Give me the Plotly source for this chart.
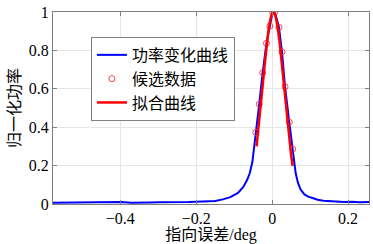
import plotly.graph_objects as go

# Blue: normalised power vs pointing error
power_x = [-0.577, -0.55, -0.52, -0.5, -0.47, -0.45, -0.42, -0.4, -0.37, -0.35, -0.32, -0.3,
           -0.27, -0.25, -0.22, -0.2, -0.17, -0.15, -0.13, -0.11, -0.09, -0.076, -0.066,
           -0.059, -0.052, -0.047, -0.043, -0.034, -0.025, -0.015, -0.006, 0.001, 0.007,
           0.018, 0.026, 0.034, 0.045, 0.054, 0.058, 0.062, 0.068, 0.075, 0.085, 0.095,
           0.108, 0.12, 0.135, 0.15, 0.17, 0.19, 0.21, 0.23, 0.255]
power_y = [0.006, 0.007, 0.005, 0.006, 0.008, 0.007, 0.009, 0.010, 0.007, 0.006, 0.008, 0.009,
           0.008, 0.009, 0.010, 0.012, 0.013, 0.016, 0.024, 0.036, 0.058, 0.089, 0.125,
           0.16, 0.22, 0.30, 0.37, 0.52, 0.684, 0.837, 0.927, 1.0, 1.0,
           0.92, 0.79, 0.61, 0.426, 0.27, 0.20, 0.16, 0.11, 0.075, 0.05, 0.038,
           0.03, 0.022, 0.017, 0.014, 0.011, 0.010, 0.012, 0.009, 0.011]

# Candidate data (circles)
cand_x = [-0.043, -0.034, -0.025, -0.015, -0.006, 0.001, 0.007, 0.018, 0.026, 0.034, 0.045, 0.054]
cand_y = [0.373, 0.52, 0.684, 0.837, 0.927, 1.0, 1.0, 0.92, 0.793, 0.611, 0.426, 0.286]

# Red: fitted curve
fit_x = [-0.041, -0.035, -0.030, -0.025, -0.020, -0.015, -0.010, -0.005, 0.0, 0.003, 0.006,
         0.010, 0.015, 0.020, 0.025, 0.030, 0.035, 0.040, 0.045, 0.050, 0.054]
fit_y = [0.30, 0.407, 0.508, 0.614, 0.72, 0.818, 0.90, 0.961, 0.994, 1.0, 0.994,
         0.97, 0.914, 0.835, 0.74, 0.636, 0.529, 0.427, 0.334, 0.253, 0.198]

x_ticks = [-0.4, -0.2, 0, 0.2]
y_ticks = [0, 0.2, 0.4, 0.6, 0.8, 1]

font_main = "Liberation Serif, Noto Sans CJK SC, serif"

fig = go.Figure()
fig.add_trace(go.Scatter(x=power_x, y=power_y, mode="lines", name="功率变化曲线",
                         line=dict(color="#0000ff", width=2)))
fig.add_trace(go.Scatter(x=cand_x, y=cand_y, mode="markers", name="候选数据",
                         marker=dict(symbol="circle-open", color="#ff4040", size=6,
                                     line=dict(width=1, color="#ff5050"))))
fig.add_trace(go.Scatter(x=fit_x, y=fit_y, mode="lines", name="拟合曲线",
                         line=dict(color="#ff0000", width=2.5)))

axis_common = dict(showline=True, linecolor="#808080", linewidth=1, mirror="ticks",
                   ticks="inside", ticklen=4, tickcolor="#808080", automargin=False,
                   showgrid=True, gridcolor="#e6e6e6", gridwidth=1, zeroline=False,
                   tickfont=dict(family=font_main, size=16, color="#000"))

fig.update_layout(
    width=373, height=244,
    margin=dict(l=53, r=4, t=12, b=40),
    paper_bgcolor="white", plot_bgcolor="white",
    showlegend=True,
    legend=dict(x=0.12, y=0.87, xanchor="left", yanchor="top",
                bgcolor="white", bordercolor="#808080", borderwidth=1,
                font=dict(family="Noto Sans CJK SC, serif", size=16, color="#000"),
                tracegroupgap=0, itemwidth=30),
    xaxis=dict(range=[-0.577, 0.255], tickvals=x_ticks,
               title=dict(text="指向误差/deg", standoff=0,
                          font=dict(family=font_main, size=16, color="#000")),
               **axis_common),
    yaxis=dict(range=[0, 1], tickvals=y_ticks,
               title=dict(text="归一化功率", standoff=4,
                          font=dict(family=font_main, size=16, color="#000")),
               **axis_common),
)

fig.write_html("out.html", config={"displayModeBar": False},
               post_script="document.body.style.margin='0px';")
